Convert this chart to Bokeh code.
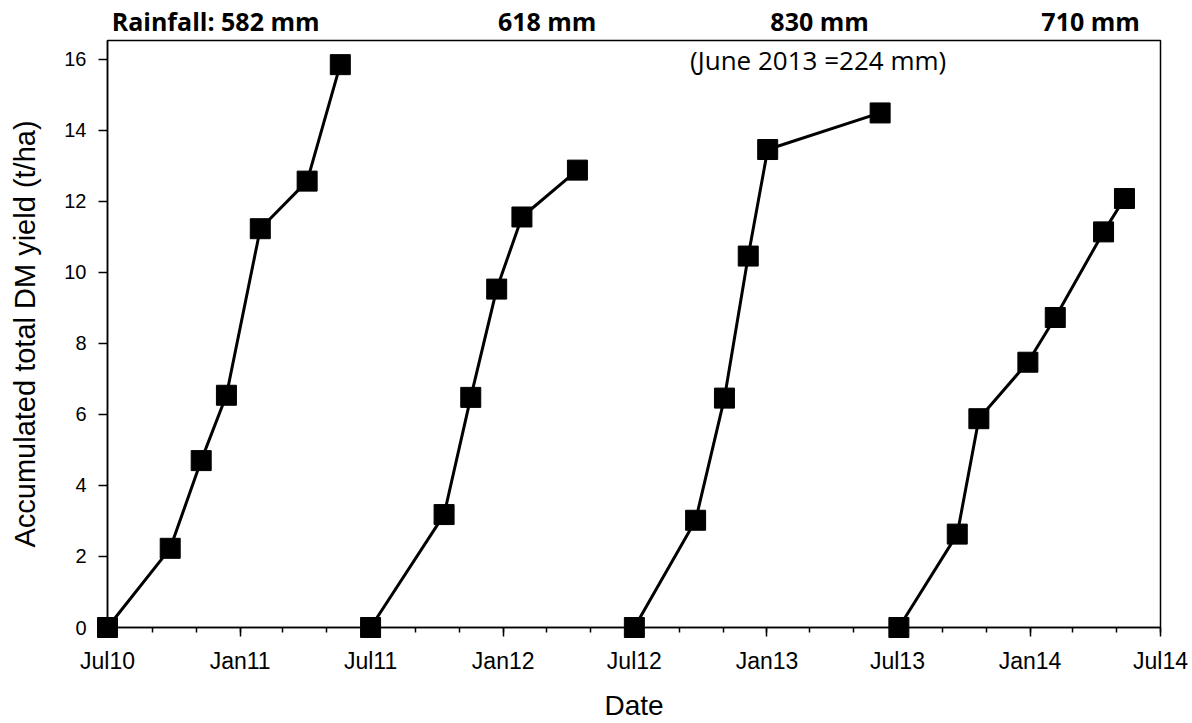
import pandas as pd
from bokeh.plotting import figure
from bokeh.models import Range1d, FixedTicker
from bokeh.core.properties import value
from bokeh.embed import file_html
from bokeh.resources import INLINE

# ---- data ----
dates_2010 = ["2010-07-01", "2010-09-26", "2010-11-08", "2010-12-13", "2011-01-29", "2011-04-04", "2011-05-20"]
yield_2010 = [0, 2.23, 4.70, 6.54, 11.23, 12.57, 15.85]
dates_2011 = ["2011-07-01", "2011-10-11", "2011-11-17", "2011-12-23", "2012-01-27", "2012-04-13"]
yield_2011 = [0, 3.18, 6.48, 9.53, 11.56, 12.88]
dates_2012 = ["2012-07-01", "2012-09-24", "2012-11-03", "2012-12-06", "2013-01-02", "2013-06-07"]
yield_2012 = [0, 3.02, 6.46, 10.46, 13.46, 14.49]
dates_2013 = ["2013-07-03", "2013-09-22", "2013-10-22", "2013-12-29", "2014-02-05", "2014-04-13", "2014-05-12"]
yield_2013 = [0, 2.63, 5.88, 7.47, 8.73, 11.14, 12.08]

major_tick_dates = ["2010-07-01", "2011-01-01", "2011-07-01", "2012-01-01", "2012-07-01",
                    "2013-01-01", "2013-07-01", "2014-01-01", "2014-07-01"]
major_tick_labels = ["Jul10", "Jan11", "Jul11", "Jan12", "Jul12", "Jan13", "Jul13", "Jan14", "Jul14"]
y_ticks = [0, 2, 4, 6, 8, 10, 12, 14, 16]

rain_labels = ["Rainfall: 582 mm", "618 mm", "830 mm", "710 mm"]
rain_label_dates = ["2010-11-28", "2012-03-02", "2013-03-15", "2014-03-26"]
note_label = "(June 2013 =224 mm)"
note_date = "2013-03-13"


def ms(d):
    return pd.Timestamp(d).value // 10**6


minor_tick_dates = pd.date_range("2010-07-01", "2014-07-01", freq="2MS")

W, H = 1190, 723
p = figure(width=W, height=H, output_backend="svg", toolbar_location=None,
           x_range=Range1d(ms("2010-07-01"), ms("2014-07-01")),
           y_range=Range1d(0, 16.53),
           min_border_left=107, min_border_right=W - 1160, min_border_top=40,
           min_border_bottom=H - 627)

p.xgrid.visible = False
p.ygrid.visible = False
p.outline_line_color = "black"
p.outline_line_width = 1.5
p.background_fill_color = "white"
p.border_fill_color = "white"

for d, y in [(dates_2010, yield_2010), (dates_2011, yield_2011),
             (dates_2012, yield_2012), (dates_2013, yield_2013)]:
    xs = [ms(v) for v in d]
    r1 = p.line(xs, y, line_color="black", line_width=3)
    r2 = p.scatter(xs, y, marker="square", size=20, fill_color="black", line_color="black")
    r1.level = "overlay"
    r2.level = "overlay"

# x axis
xa = p.xaxis[0]
xa.ticker = FixedTicker(ticks=[ms(d) for d in major_tick_dates],
                        minor_ticks=[ms(d) for d in minor_tick_dates])
xa.major_label_overrides = {ms(d): l for d, l in zip(major_tick_dates, major_tick_labels)}
xa.axis_label = "Date"

# y axis
ya = p.yaxis[0]
ya.ticker = FixedTicker(ticks=y_ticks, minor_ticks=[])
ya.axis_label = "Accumulated total DM yield (t/ha)"

for ax in (xa, ya):
    ax.axis_line_color = "black"
    ax.axis_line_width = 1.5
    ax.major_tick_line_color = "black"
    ax.major_tick_line_width = 1.5
    ax.minor_tick_line_color = "black"
    ax.minor_tick_line_width = 1.5
    ax.major_tick_in = 0
    ax.minor_tick_in = 0
    ax.major_label_text_font = "Liberation Sans"
    ax.major_label_text_color = "black"
    ax.axis_label_text_font = "Liberation Sans"
    ax.axis_label_text_font_style = "normal"
    ax.axis_label_text_color = "black"

xa.axis_label_text_font_size = "28px"
ya.axis_label_text_font_size = "29px"
xa.major_label_text_font_size = "23px"
ya.major_label_text_font_size = "20px"
xa.major_tick_out = 9
xa.minor_tick_out = 5
xa.major_label_standoff = 11
xa.axis_label_standoff = 13
ya.major_tick_out = 9
ya.minor_tick_out = 0
ya.major_label_standoff = 12
ya.axis_label_standoff = 20

rt = p.text(x=[ms(d) for d in rain_label_dates], y=[17.09] * len(rain_labels), text=rain_labels,
            text_font=value("Open Sans"), text_font_size="25px", text_font_style="bold",
            text_align="center", text_baseline="middle", text_color="black")
rt.level = "overlay"

nt = p.text(x=[ms(note_date)], y=[15.98], text=[note_label],
            text_font=value("Open Sans"), text_font_size="26px",
            text_align="center", text_baseline="middle", text_color="black")
nt.level = "overlay"

open("out.html", "w").write(file_html(p, INLINE))
